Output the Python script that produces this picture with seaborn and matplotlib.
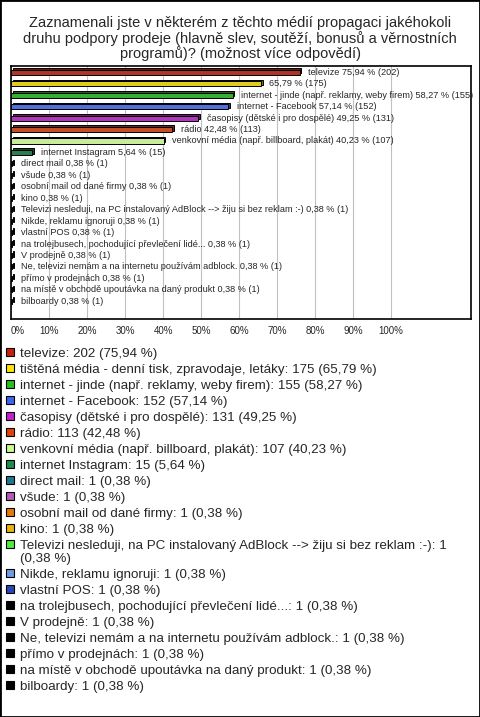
import numpy as np
import pandas as pd
import matplotlib.pyplot as plt
import matplotlib.colors as mcolors
import matplotlib.transforms as mtransforms
from matplotlib.patches import Rectangle
import seaborn as sns

# data
categories = [
    'televize',
    'tištěná média - denní tisk, zpravodaje, letáky',
    'internet - jinde (např. reklamy, weby firem)',
    'internet - Facebook',
    'časopisy (dětské i pro dospělé)',
    'rádio',
    'venkovní média (např. billboard, plakát)',
    'internet Instagram',
    'direct mail',
    'všude',
    'osobní mail od dané firmy',
    'kino',
    'Televizi nesleduji, na PC instalovaný AdBlock --> žiju si bez reklam :-)',
    'Nikde, reklamu ignoruji',
    'vlastní POS',
    'na trolejbusech, pochodující převlečení lidé...',
    'V prodejně',
    'Ne, televizi nemám a na internetu používám adblock.',
    'přímo v prodejnách',
    'na místě v obchodě upoutávka na daný produkt',
    'bilboardy',
]
counts = [202, 175, 155, 152, 131, 113, 107, 15, 1, 1, 1, 1, 1, 1, 1, 1, 1, 1, 1, 1, 1]
percent = [75.94, 65.79, 58.27, 57.14, 49.25, 42.48, 40.23, 5.64,
           0.38, 0.38, 0.38, 0.38, 0.38, 0.38, 0.38, 0.38, 0.38, 0.38, 0.38, 0.38, 0.38]
pct_text = ['75,94', '65,79', '58,27', '57,14', '49,25', '42,48', '40,23', '5,64',
            '0,38', '0,38', '0,38', '0,38', '0,38', '0,38', '0,38', '0,38', '0,38', '0,38',
            '0,38', '0,38', '0,38']
# name shown next to bar (2nd one has none in the original)
bar_names = [c for c in categories]
bar_names[1] = ''
colors = ['#C8200E', '#FFE600', '#22C31E', '#3C64F0', '#C81ED2', '#E0420A', '#C8FA8C',
          '#1E8C50', '#1E7891', '#B45AB9', '#E6780A', '#E6B40A', '#50EB3C', '#6E9BE6',
          '#2846B4', '#000000', '#000000', '#000000', '#000000', '#000000', '#000000']
ticks = [0, 10, 20, 30, 40, 50, 60, 70, 80, 90, 100]
tick_labels = ['0%', '10%', '20%', '30%', '40%', '50%', '60%', '70%', '80%', '90%', '100%']
title = ('Zaznamenali jste v některém z těchto médií propagaci jakéhokoli\n'
         'druhu podpory prodeje (hlavně slev, soutěží, bonusů a věrnostních\n'
         'programů)? (možnost více odpovědí)')

sns.set_style('white')
plt.rcParams['font.family'] = ['Liberation Sans', 'DejaVu Sans']

W, H = 480, 717
fig = plt.figure(figsize=(W / 100, H / 100), dpi=100)


def box(l, t, r, b):
    # pixel box -> figure fraction
    return [l / W, 1 - b / H, (r - l) / W, (b - t) / H]


fig.text(0.5, 1 - 16 / H, title, ha='center', va='top', fontsize=10.5, linespacing=1.05)

ax = fig.add_axes(box(11, 66, 471, 319))
df = pd.DataFrame({'cat': categories, 'pct': percent})
sns.barplot(data=df, x='pct', y='cat', hue='cat', palette=colors, orient='h',
            width=0.45, edgecolor='black', linewidth=0.7, legend=False, ax=ax, zorder=3)

# fake 3D: darker copy shifted up/right behind every bar
shift = mtransforms.ScaledTranslation(1.5 / 100, 1.5 / 100, fig.dpi_scale_trans)
for p in list(ax.patches):
    fc = np.array(mcolors.to_rgb(p.get_facecolor())) * 0.55
    sh = Rectangle((p.get_x(), p.get_y()), p.get_width(), p.get_height(),
                   facecolor=fc, edgecolor='black', linewidth=0.7,
                   transform=ax.transData + shift, zorder=2)
    ax.add_patch(sh)

bars = sorted([p for p in ax.patches if p.get_zorder() == 3], key=lambda p: p.get_y())
for p, nm, pt, c in zip(bars, bar_names, pct_text, counts):
    lab = (nm + ' ' if nm else '') + f'{pt} % ({c})'
    ax.annotate(lab, xy=(p.get_width(), p.get_y() + p.get_height() / 2),
                xytext=(6, 0), textcoords='offset points', va='center',
                fontsize=6.6, annotation_clip=False, zorder=4)

ax.set_xlim(0, 121)
ax.set_ylim(21.55, -0.55)
ax.set_xticks(ticks)
ax.set_xticklabels(tick_labels, fontsize=7)
ax.get_xticklabels()[0].set_ha('left')
ax.tick_params(axis='x', length=0, pad=5)
ax.set_yticks([])
ax.set_xlabel('')
ax.set_ylabel('')
ax.xaxis.grid(True, color='#c0c0c0', linewidth=0.8, zorder=0)
ax.set_axisbelow(True)
for s in ax.spines.values():
    s.set_color('black')
    s.set_linewidth(1.2)

# legend list under the chart
y = 352
for name, c, pt, col in zip(categories, counts, pct_text, colors):
    txt = f'{name}: {c} ({pt} %)'
    lines = [txt]
    if len(txt) > 70:
        lines = txt.replace(' (', '\n(').split('\n')
    fig.patches.append(Rectangle((6 / W, 1 - (y + 4) / H), 8 / W, 8 / H,
                                 transform=fig.transFigure, facecolor=col,
                                 edgecolor='black', linewidth=0.8))
    for k, ln in enumerate(lines):
        fig.text(20 / W, 1 - (y + 5.5 + 12.5 * k) / H, ln, ha='left', va='baseline',
                 fontsize=9.6)
    y += 16 + 12.5 * (len(lines) - 1)

fig.patches.append(Rectangle((0, 0), 1, 1, transform=fig.transFigure, fill=False,
                             edgecolor='black', linewidth=2))
fig.savefig('out.png', dpi=100)
